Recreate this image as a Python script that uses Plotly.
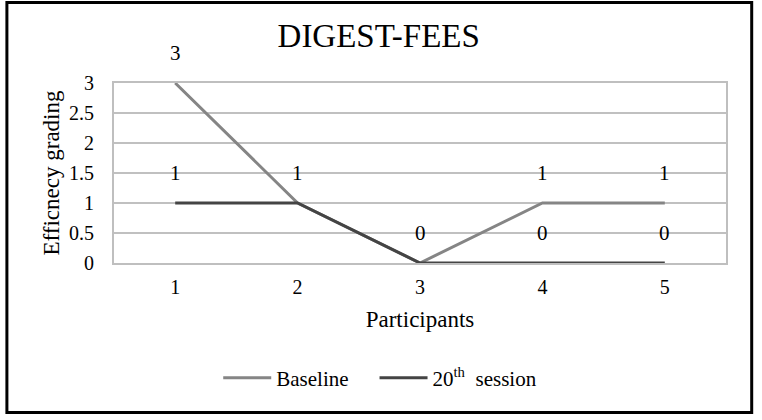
import plotly.graph_objects as go

participants = [1, 2, 3, 4, 5]
baseline = [3, 1, 0, 1, 1]
session20 = [1, 1, 0, 0, 0]
y_ticks = [0, 0.5, 1, 1.5, 2, 2.5, 3]
y_tick_labels = ["0", "0.5", "1", "1.5", "2", "2.5", "3"]

FONT = "Liberation Serif"
C_BASE = "#858585"
C_S20 = "#444444"

fig = go.Figure()
fig.add_trace(go.Scatter(x=participants, y=baseline, mode="lines",
                         name="Baseline" + "\u00a0" * 4,
                         line=dict(color=C_BASE, width=3)))
fig.add_trace(go.Scatter(x=participants, y=session20, mode="lines",
                         name="20<sup>th</sup>  session",
                         line=dict(color=C_S20, width=3)))

seen = set()
for xs, ys in ((participants, session20), (participants, baseline)):
    for x, y in zip(xs, ys):
        if (x, y) in seen:
            continue
        seen.add((x, y))
        fig.add_annotation(x=x, y=y, text=str(y), showarrow=False, yshift=30,
                           font=dict(family=FONT, size=21, color="#000"),
                           bgcolor="rgba(0,0,0,0)")

fig.update_layout(
    width=762, height=420,
    paper_bgcolor="white", plot_bgcolor="white",
    margin=dict(l=114, r=36, t=83, b=157),
    title=dict(text="DIGEST-FEES", x=0.497, xanchor="center", xref="container",
               y=0.915, yanchor="middle", yref="container",
               font=dict(family=FONT, size=33, color="#000")),
    font=dict(family=FONT, color="#000"),
    showlegend=True,
    legend=dict(orientation="h", x=0.435, xanchor="center",
                y=-0.64, yanchor="middle",
                font=dict(family=FONT, size=21, color="#000"),
                itemwidth=48, tracegroupgap=0),
    shapes=[dict(type="rect", xref="paper", yref="paper", x0=-0.175, x1=1.042,
                 y0=-0.83, y1=1.447, line=dict(color="black", width=3), layer="above")],
)
fig.update_xaxes(range=[0.5, 5.5], tickvals=participants,
                 ticktext=[str(p) for p in participants],
                 showgrid=False, showline=True, linecolor="#bfbfbf", linewidth=2,
                 mirror=True, ticks="", zeroline=False, ticklabelstandoff=5,
                 tickfont=dict(family=FONT, size=20, color="#000"),
                 title=dict(text="Participants", font=dict(family=FONT, size=23, color="#000"),
                            standoff=14))
fig.update_yaxes(range=[0, 3], tickvals=y_ticks, ticktext=y_tick_labels,
                 showgrid=True, gridcolor="#c0c0c0", gridwidth=1.5,
                 showline=True, linecolor="#bfbfbf", linewidth=2, mirror=True,
                 ticks="", zeroline=False, ticklabelstandoff=14,
                 tickfont=dict(family=FONT, size=20, color="#000"),
                 title=dict(text="Efficnecy grading", font=dict(family=FONT, size=23, color="#000"),
                            standoff=3))

fig.write_html("out.html", config={"displayModeBar": False},
               post_script="document.body.style.margin='0px';")
